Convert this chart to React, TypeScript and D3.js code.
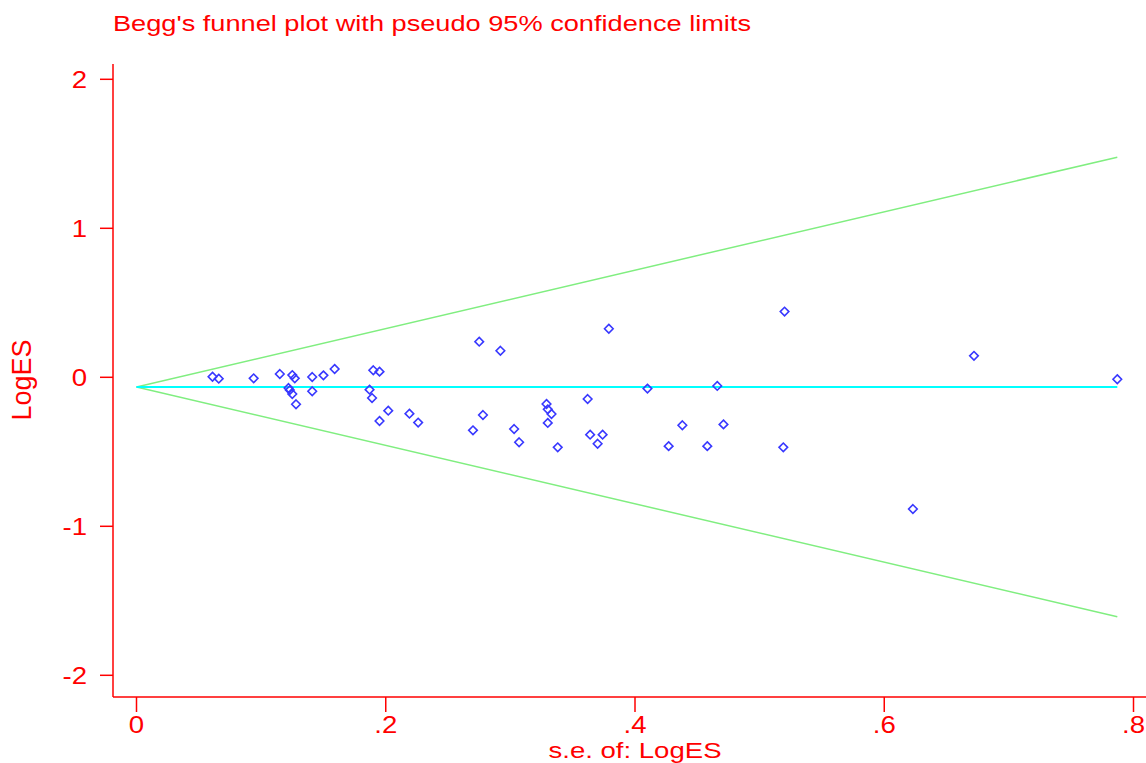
import React from "react";
import * as d3 from "d3";

const seValues = [0.061, 0.066, 0.094, 0.115, 0.125, 0.127, 0.141, 0.150, 0.159, 0.122, 0.123, 0.125, 0.128, 0.141, 0.190, 0.195, 0.275, 0.292, 0.187, 0.189, 0.202, 0.195, 0.219, 0.226, 0.278, 0.270, 0.303, 0.307, 0.329, 0.330, 0.333, 0.330, 0.338, 0.362, 0.364, 0.374, 0.370, 0.379, 0.410, 0.427, 0.438, 0.458, 0.466, 0.471, 0.519, 0.520, 0.672, 0.787, 0.623];
const logES = [0.004, -0.009, -0.007, 0.022, 0.015, -0.007, 0.002, 0.013, 0.056, -0.072, -0.086, -0.112, -0.181, -0.094, 0.047, 0.038, 0.239, 0.178, -0.083, -0.139, -0.224, -0.293, -0.244, -0.304, -0.253, -0.356, -0.347, -0.436, -0.179, -0.215, -0.246, -0.306, -0.470, -0.146, -0.385, -0.385, -0.446, 0.326, -0.076, -0.462, -0.322, -0.462, -0.058, -0.316, -0.470, 0.441, 0.144, -0.013, -0.884];
const pooledLogES = -0.065;
const xTicks = [0, 0.2, 0.4, 0.6, 0.8];
const xTickLabels = ["0", ".2", ".4", ".6", ".8"];
const yTicks = [-2, -1, 0, 1, 2];
const yTickLabels = ["-2", "-1", "0", "1", "2"];
const titleText = "Begg's funnel plot with pseudo 95% confidence limits";
const xTitle = "s.e. of: LogES";
const yTitle = "LogES";

const RED = "#ff0000";
const FONT = "'Liberation Sans', Arial, sans-serif";

function SText({ x, y, sx = 1, size, anchor = "start", children, rotate = 0 }: any) {
  const tf = rotate
    ? `translate(${x},${y}) rotate(${rotate}) scale(${sx},1)`
    : `translate(${x},${y}) scale(${sx},1)`;
  return (
    <text transform={tf} fontFamily={FONT} fontSize={size} fill={RED} textAnchor={anchor}>
      {children}
    </text>
  );
}

export default function App() {
  const W = 1146, H = 763;
  const x = d3.scaleLinear().domain([0, 0.8]).range([136.5, 1133.5]);
  const y = d3.scaleLinear().domain([-2, 2]).range([675.3, 79.3]);
  const axisX = 113;
  const axisY = 697;
  const maxSe = d3.max(seValues) as number;
  const seGrid = [0, maxSe];
  const upper = d3.line<number>().x((s) => x(s)).y((s) => y(pooledLogES + 1.96 * s));
  const lower = d3.line<number>().x((s) => x(s)).y((s) => y(pooledLogES - 1.96 * s));
  const r = 4.3;
  const diamond = `M0,${-r}L${r},0L0,${r}L${-r},0Z`;
  const pts = seValues.map((s, i) => ({ s, v: logES[i] }));

  return (
    <svg width={W} height={H} style={{ position: "absolute", left: 0, top: 0, background: "#fff" }}>
      <rect width={W} height={H} fill="#fff" />
      <text x={113} y={31} fontFamily={FONT} fontSize={22} fill={RED} textLength={638} lengthAdjust="spacingAndGlyphs">
        {titleText}
      </text>
      <path d={upper(seGrid) || ""} stroke="#80ee80" strokeWidth={1.5} fill="none" />
      <path d={lower(seGrid) || ""} stroke="#80ee80" strokeWidth={1.5} fill="none" />
      <line x1={x(0)} x2={x(maxSe)} y1={y(pooledLogES)} y2={y(pooledLogES)} stroke="#00ffff" strokeWidth={2} />
      {pts.map((p, i) => (
        <path key={i} d={diamond} transform={`translate(${x(p.s)},${y(p.v)})`} fill="none" stroke="#3838ff" strokeWidth={1.6} />
      ))}
      <line x1={axisX} x2={axisX} y1={64} y2={axisY} stroke={RED} strokeWidth={1.5} />
      <line x1={axisX} x2={W} y1={axisY} y2={axisY} stroke={RED} strokeWidth={1.5} />
      {yTicks.map((t, i) => (
        <g key={t}>
          <line x1={axisX - 13} x2={axisX} y1={y(t)} y2={y(t)} stroke={RED} strokeWidth={1.5} />
          <SText x={87} y={y(t) + 8.5} sx={1.2} size={23} anchor="end">{yTickLabels[i]}</SText>
        </g>
      ))}
      {xTicks.map((t, i) => (
        <g key={t}>
          <line x1={x(t)} x2={x(t)} y1={axisY} y2={axisY + 15} stroke={RED} strokeWidth={1.5} />
          <SText x={x(t)} y={733} sx={1.2} size={23} anchor="middle">{xTickLabels[i]}</SText>
        </g>
      ))}
      <text x={635} y={758} fontFamily={FONT} fontSize={21.5} fill={RED} textAnchor="middle" textLength={173} lengthAdjust="spacingAndGlyphs">
        {xTitle}
      </text>
      <SText x={31} y={380} size={27} anchor="middle" rotate={-90}>{yTitle}</SText>
    </svg>
  );
}
